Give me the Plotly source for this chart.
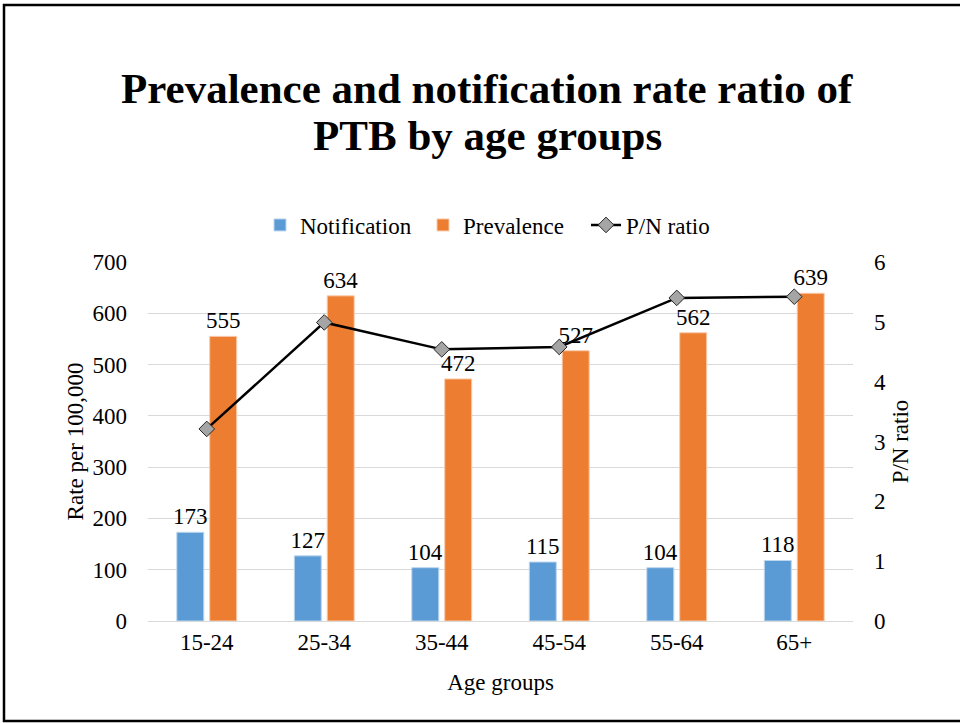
import plotly.graph_objects as go

# Age groups and rates per 100,000
age_groups = ["15-24", "25-34", "35-44", "45-54", "55-64", "65+"]
notification = [173, 127, 104, 115, 104, 118]
prevalence = [555, 634, 472, 527, 562, 639]
pn_ratio = [3.21, 4.99, 4.54, 4.58, 5.40, 5.42]

left_ticks = [0, 100, 200, 300, 400, 500, 600, 700]
right_ticks = [0, 1, 2, 3, 4, 5, 6]

title_lines = ["Prevalence and notification rate ratio of", "PTB by age groups"]

FONT = "Liberation Serif, Times New Roman, serif"
FS = 23
W, H = 960, 723
L, R, T, B = 148, 107, 262, 102
PW, PH = W - L - R, H - T - B


def px_x(x):
    return (x - L) / PW


def px_y(y):
    return (H - B - y) / PH


fig = go.Figure()

fig.add_trace(go.Bar(
    x=age_groups, y=notification, name="Notification",
    marker=dict(color="#5B9BD5", line=dict(color="#BDD7EE", width=1)),
    text=[str(v) for v in notification], textposition="outside",
    constraintext="none",
    textfont=dict(family=FONT, size=FS, color="#000000"),
    cliponaxis=False,
))
fig.add_trace(go.Bar(
    x=age_groups, y=prevalence, name="Prevalence",
    marker=dict(color="#ED7D31", line=dict(color="#F8CBAD", width=1)),
    text=[str(v) for v in prevalence], textposition="outside",
    constraintext="none",
    textfont=dict(family=FONT, size=FS, color="#000000"),
    cliponaxis=False,
))
fig.add_trace(go.Scatter(
    x=age_groups, y=pn_ratio, name="P/N ratio", yaxis="y2",
    mode="lines+markers",
    line=dict(color="#000000", width=2.5),
    marker=dict(symbol="diamond", size=12, color="#A5A5A5",
                line=dict(color="#262626", width=1)),
    cliponaxis=False,
))

# Outer frame around the whole chart
fig.add_shape(type="rect", xref="paper", yref="paper",
              x0=px_x(4), x1=px_x(964), y0=px_y(721), y1=px_y(5),
              line=dict(color="#000000", width=2.5), layer="below")

# Two-line bold title
for line, yc in zip(title_lines, [88, 135]):
    fig.add_annotation(
        text=f"<b>{line}</b>",
        xref="paper", yref="paper", x=px_x(487), y=px_y(yc),
        xanchor="center", yanchor="middle", showarrow=False,
        font=dict(family=FONT, size=43, color="#000000"),
    )

fig.update_layout(
    width=W, height=H,
    margin=dict(l=L, r=R, t=T, b=B, pad=0),
    paper_bgcolor="white", plot_bgcolor="white",
    font=dict(family=FONT, size=FS, color="#000000"),
    barmode="group", bargap=0.44, bargroupgap=0.18,
    showlegend=True,
    legend=dict(orientation="h", x=px_x(260), y=px_y(225),
                xanchor="left", yanchor="middle",
                font=dict(family=FONT, size=FS), itemwidth=30,
                entrywidth=118, entrywidthmode="pixels",
                traceorder="normal"),
    xaxis=dict(showgrid=False, showline=True, linecolor="#D9D9D9",
               linewidth=1, ticks="", tickfont=dict(size=FS),
               title=dict(text="Age groups", font=dict(size=FS), standoff=20)),
    yaxis=dict(range=[0, 700], tickvals=left_ticks,
               showgrid=True, gridcolor="#D9D9D9", gridwidth=1,
               zeroline=False, showline=False, ticks="",
               ticklabelstandoff=20, tickfont=dict(size=FS),
               title=dict(text="Rate per 100,000", font=dict(size=FS), standoff=2)),
    yaxis2=dict(range=[0, 6], tickvals=right_ticks, overlaying="y",
                side="right", showgrid=False, zeroline=False,
                showline=False, ticks="", ticklabelstandoff=20,
                tickfont=dict(size=FS),
                title=dict(text="P/N ratio", font=dict(size=FS), standoff=6)),
)

fig.write_html("out.html")
